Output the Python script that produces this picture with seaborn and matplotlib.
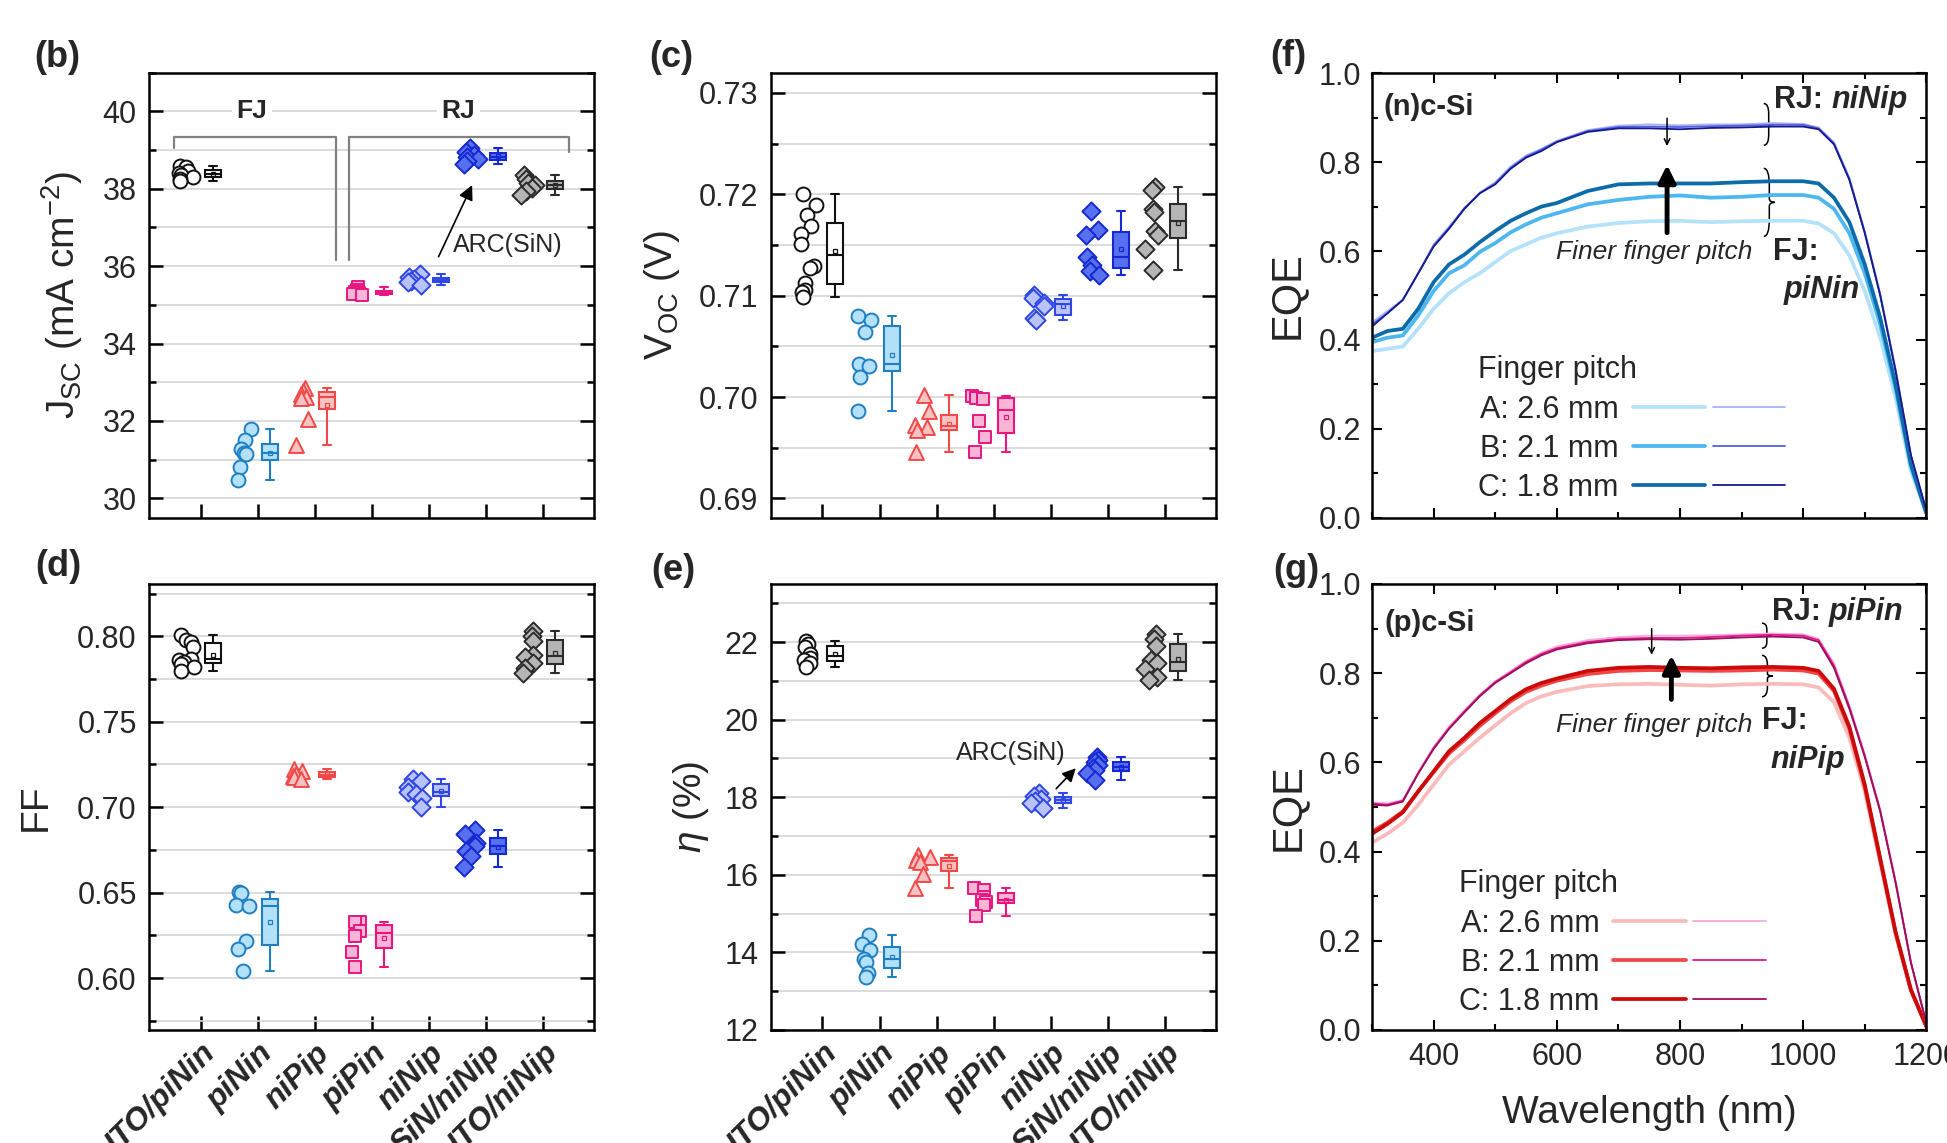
import numpy as np
import matplotlib
matplotlib.use("Agg")
import matplotlib.pyplot as plt
import seaborn as sns
from matplotlib.ticker import MultipleLocator, FormatStrFormatter, NullLocator
from matplotlib.legend_handler import HandlerTuple
from matplotlib.path import Path
from matplotlib.patches import PathPatch

sns.set_theme(style="ticks")
plt.rcParams["font.family"] = ["Liberation Sans", "DejaVu Sans"]
plt.rcParams["mathtext.fontset"] = "custom"
plt.rcParams["mathtext.rm"] = "Liberation Sans"
plt.rcParams["mathtext.it"] = "Liberation Sans:italic"
plt.rcParams["mathtext.bf"] = "Liberation Sans:bold"

# ---- device groups (panels b-e) ----
devices = ["ITO/piNin", "piNin", "niPip", "piPin", "niNip", "SiN/niNip", "ITO/niNip"]
markers = ["o", "o", "^", "s", "D", "D", "D"]
marker_sizes = [100, 100, 115, 80, 85, 85, 85]
edge_colors = ["#111111", "#1f7fc0", "#f24848", "#e8167f", "#2f47e6", "#1628cf", "#2b2b2b"]
face_colors = ["#ffffff", "#b3e1fa", "#f8c2c2", "#f9b5d6", "#b9c3fa", "#5670f0", "#b5b5b5"]

jsc = [
    [38.60, 38.55, 38.47, 38.42, 38.36, 38.31, 38.25, 38.19],
    [31.78, 31.52, 31.28, 31.18, 31.14, 30.82, 30.47],
    [32.85, 32.78, 32.70, 32.62, 32.58, 32.05, 31.38],
    [35.47, 35.38, 35.33, 35.30, 35.28, 35.25],
    [35.80, 35.72, 35.66, 35.62, 35.58, 35.52],
    [39.05, 38.95, 38.88, 38.82, 38.78, 38.72, 38.65],
    [38.35, 38.25, 38.15, 38.10, 38.02, 37.95, 37.85],
]
voc = [
    [0.7200, 0.7189, 0.7180, 0.7169, 0.7161, 0.7151, 0.7129, 0.7127, 0.7113, 0.7106, 0.7104, 0.7099],
    [0.7080, 0.7076, 0.7064, 0.7033, 0.7031, 0.7020, 0.6986],
    [0.7002, 0.6986, 0.6972, 0.6970, 0.6967, 0.6946],
    [0.7001, 0.6999, 0.6998, 0.6976, 0.6961, 0.6946],
    [0.7101, 0.7098, 0.7093, 0.7090, 0.7078, 0.7076],
    [0.7184, 0.7165, 0.7160, 0.7138, 0.7130, 0.7124, 0.7120],
    [0.7207, 0.7204, 0.7186, 0.7183, 0.7164, 0.7160, 0.7146, 0.7125],
]
ff = [
    [0.8005, 0.7980, 0.7965, 0.7940, 0.7868, 0.7862, 0.7850, 0.7838, 0.7820, 0.7797],
    [0.6506, 0.6496, 0.6430, 0.6422, 0.6215, 0.6168, 0.6043],
    [0.7225, 0.7210, 0.7195, 0.7185, 0.7175, 0.7165],
    [0.6330, 0.6325, 0.6277, 0.6246, 0.6154, 0.6066],
    [0.7165, 0.7150, 0.7120, 0.7091, 0.7075, 0.7055, 0.7003],
    [0.6865, 0.6845, 0.6790, 0.6773, 0.6745, 0.6712, 0.6650],
    [0.8030, 0.8000, 0.7970, 0.7890, 0.7880, 0.7845, 0.7815, 0.7785],
]
eta = [
    [22.03, 21.95, 21.88, 21.70, 21.60, 21.55, 21.45, 21.35],
    [14.45, 14.22, 14.05, 13.82, 13.75, 13.47, 13.36],
    [16.52, 16.45, 16.38, 16.32, 16.02, 15.65],
    [15.67, 15.62, 15.42, 15.36, 15.30, 15.23, 14.93],
    [18.12, 18.02, 17.96, 17.90, 17.85, 17.72],
    [19.05, 18.95, 18.90, 18.82, 18.76, 18.70, 18.62, 18.45],
    [22.20, 22.08, 21.90, 21.55, 21.45, 21.30, 21.10, 21.03],
]

# ---- EQE spectra (panels f, g) ----
wavelength = [300, 325, 350, 375, 400, 425, 450, 475, 500, 525, 550, 575, 600, 650, 700,
              750, 800, 850, 900, 950, 1000, 1025, 1050, 1075, 1100, 1125, 1150, 1175, 1200]
pitch_labels = ["A: 2.6 mm", "B: 2.1 mm", "C: 1.8 mm"]

f_fj_a = [0.375, 0.380, 0.385, 0.425, 0.470, 0.505, 0.530, 0.550, 0.575, 0.600, 0.615, 0.630, 0.640, 0.655, 0.663,
          0.667, 0.668, 0.665, 0.667, 0.668, 0.668, 0.662, 0.640, 0.590, 0.510, 0.405, 0.270, 0.105, 0.010]
f_fj_b = [0.395, 0.405, 0.410, 0.455, 0.510, 0.550, 0.568, 0.598, 0.618, 0.642, 0.660, 0.675, 0.685, 0.705, 0.715,
          0.722, 0.725, 0.720, 0.722, 0.726, 0.726, 0.720, 0.695, 0.640, 0.550, 0.435, 0.290, 0.115, 0.010]
f_fj_c = [0.405, 0.420, 0.425, 0.470, 0.530, 0.570, 0.592, 0.620, 0.645, 0.668, 0.685, 0.700, 0.708, 0.735, 0.750,
          0.752, 0.752, 0.752, 0.755, 0.757, 0.757, 0.752, 0.720, 0.665, 0.570, 0.450, 0.300, 0.120, 0.010]
f_rj_a = [0.440, 0.465, 0.490, 0.550, 0.615, 0.655, 0.695, 0.732, 0.755, 0.790, 0.815, 0.830, 0.848, 0.872, 0.882,
          0.885, 0.883, 0.885, 0.885, 0.888, 0.886, 0.878, 0.845, 0.765, 0.645, 0.505, 0.335, 0.140, 0.015]
f_rj_b = [0.435, 0.460, 0.490, 0.550, 0.612, 0.652, 0.697, 0.730, 0.752, 0.787, 0.812, 0.828, 0.846, 0.870, 0.879,
          0.880, 0.879, 0.881, 0.882, 0.884, 0.884, 0.876, 0.842, 0.762, 0.642, 0.502, 0.332, 0.140, 0.015]
f_rj_c = [0.430, 0.460, 0.490, 0.550, 0.610, 0.650, 0.695, 0.730, 0.750, 0.785, 0.810, 0.825, 0.845, 0.868, 0.876,
          0.876, 0.874, 0.877, 0.878, 0.880, 0.880, 0.874, 0.840, 0.760, 0.640, 0.500, 0.330, 0.140, 0.015]

g_fj_a = [0.420, 0.440, 0.465, 0.505, 0.550, 0.595, 0.625, 0.655, 0.683, 0.710, 0.733, 0.748, 0.758, 0.771, 0.775,
          0.776, 0.774, 0.772, 0.775, 0.776, 0.775, 0.768, 0.735, 0.655, 0.535, 0.375, 0.215, 0.088, 0.008]
g_fj_b = [0.445, 0.465, 0.490, 0.535, 0.578, 0.620, 0.650, 0.682, 0.710, 0.737, 0.758, 0.772, 0.783, 0.798, 0.805,
          0.807, 0.806, 0.805, 0.806, 0.808, 0.806, 0.799, 0.760, 0.675, 0.545, 0.382, 0.218, 0.089, 0.008]
g_fj_c = [0.440, 0.462, 0.488, 0.535, 0.580, 0.625, 0.655, 0.688, 0.715, 0.742, 0.764, 0.778, 0.788, 0.805, 0.812,
          0.814, 0.812, 0.811, 0.813, 0.814, 0.812, 0.805, 0.765, 0.680, 0.550, 0.385, 0.220, 0.090, 0.008]
g_rj_a = [0.510, 0.508, 0.516, 0.578, 0.635, 0.680, 0.717, 0.752, 0.782, 0.805, 0.828, 0.846, 0.860, 0.874, 0.881,
          0.884, 0.884, 0.885, 0.887, 0.889, 0.887, 0.877, 0.822, 0.728, 0.618, 0.495, 0.335, 0.152, 0.015]
g_rj_b = [0.508, 0.505, 0.514, 0.576, 0.632, 0.677, 0.714, 0.750, 0.780, 0.802, 0.825, 0.843, 0.856, 0.870, 0.877,
          0.879, 0.879, 0.881, 0.884, 0.886, 0.884, 0.874, 0.817, 0.724, 0.615, 0.492, 0.332, 0.151, 0.015]
g_rj_c = [0.505, 0.503, 0.512, 0.575, 0.630, 0.675, 0.712, 0.748, 0.778, 0.800, 0.822, 0.840, 0.853, 0.867, 0.874,
          0.876, 0.875, 0.877, 0.880, 0.882, 0.880, 0.870, 0.812, 0.720, 0.612, 0.490, 0.330, 0.150, 0.015]

f_fj_colors = ["#b4e2fb", "#4db7f0", "#0c6ba8"]
f_rj_colors = ["#a9b1f6", "#4f5fe0", "#15198a"]
g_fj_colors = ["#f9bcbc", "#f04646", "#cc0a0a"]
g_rj_colors = ["#f6a9dc", "#e0188c", "#9c0f5a"]

rng = np.random.default_rng(11)


def box_panel(ax, groups):
    for i, vals in enumerate(groups):
        vals = np.asarray(vals)
        xs = i - 0.25 + rng.uniform(-0.14, 0.14, len(vals))
        sns.scatterplot(x=xs, y=vals, marker=markers[i], s=marker_sizes[i],
                        color=face_colors[i], edgecolor=edge_colors[i],
                        linewidth=1.4, zorder=4, legend=False, ax=ax)
        sns.boxplot(x=np.full(len(vals), i + 0.22), y=vals, native_scale=True,
                    orient="x", width=0.28, color=face_colors[i],
                    linecolor=edge_colors[i], linewidth=1.5, saturation=1,
                    whis=(0, 100), showfliers=False, showmeans=True,
                    meanprops=dict(marker="s", markersize=3.5, markerfacecolor="none",
                                   markeredgecolor=edge_colors[i], markeredgewidth=0.9),
                    zorder=3, ax=ax)


def style_box_axes(ax, ylim, major, minor, fmt, show_labels):
    ax.set_xlim(-0.9, 6.9)
    ax.set_ylim(*ylim)
    ax.set_xticks(range(len(devices)))
    ax.xaxis.set_minor_locator(NullLocator())
    if show_labels:
        ax.set_xticklabels(devices, rotation=45, ha="right", va="top",
                           rotation_mode="anchor", fontsize=23,
                           fontweight="bold", fontstyle="italic")
    else:
        ax.set_xticklabels([])
    ax.yaxis.set_major_locator(MultipleLocator(major))
    ax.yaxis.set_minor_locator(MultipleLocator(minor))
    ax.yaxis.set_major_formatter(FormatStrFormatter(fmt))
    ax.grid(True, axis="y", which="both", color="#d6d6d6", lw=1.2)
    ax.grid(False, axis="x")
    ax.set_axisbelow(True)
    ax.tick_params(axis="y", which="both", direction="in", left=True, right=True,
                   labelsize=22, pad=9, width=1.8, color="black")
    ax.tick_params(axis="y", which="major", length=10)
    ax.tick_params(axis="y", which="minor", length=5)
    ax.tick_params(axis="x", which="major", direction="in", bottom=True, top=False,
                   length=10, width=1.8, pad=6, color="black")
    ax.set_xlabel("")
    for sp in ax.spines.values():
        sp.set_linewidth(1.8)
        sp.set_color("black")


def eqe_panel(ax, fj, rj, fj_colors, rj_colors):
    fj_lines, rj_lines = [], []
    for vals, c in zip(fj, fj_colors):
        sns.lineplot(x=wavelength, y=vals, color=c, lw=2.7, ax=ax)
        fj_lines.append(ax.lines[-1])
    for vals, c in zip(rj, rj_colors):
        sns.lineplot(x=wavelength, y=vals, color=c, lw=1.3, ax=ax)
        rj_lines.append(ax.lines[-1])
    return fj_lines, rj_lines


def style_eqe_axes(ax, show_xlabels):
    ax.set_xlim(300, 1200)
    ax.set_ylim(0, 1.0)
    ax.xaxis.set_major_locator(MultipleLocator(200))
    ax.xaxis.set_minor_locator(MultipleLocator(100))
    ax.yaxis.set_major_locator(MultipleLocator(0.2))
    ax.yaxis.set_minor_locator(MultipleLocator(0.1))
    ax.yaxis.set_major_formatter(FormatStrFormatter("%.1f"))
    ax.tick_params(which="both", direction="in", top=True, right=True, left=True,
                   bottom=True, width=1.5, labelsize=22, color="black")
    ax.tick_params(which="major", length=7)
    ax.tick_params(which="minor", length=4)
    ax.tick_params(axis="y", pad=8)
    ax.tick_params(axis="x", pad=9, labelbottom=show_xlabels)
    ax.grid(False)
    for sp in ax.spines.values():
        sp.set_linewidth(1.8)
        sp.set_color("black")


def brace(ax, x, y0, y1, w, lw=1.1):
    ym = (y0 + y1) / 2
    h = y1 - y0
    verts = [(x, y1), (x + w / 2, y1), (x + w / 2, y1 - h * 0.25),
             (x + w / 2, ym + h * 0.06),
             (x + w / 2, ym), (x + w, ym),
             (x + w / 2, ym), (x + w / 2, ym - h * 0.06),
             (x + w / 2, y0 + h * 0.25),
             (x + w / 2, y0), (x, y0)]
    codes = [Path.MOVETO, Path.CURVE3, Path.CURVE3, Path.LINETO, Path.CURVE3, Path.CURVE3,
             Path.CURVE3, Path.CURVE3, Path.LINETO, Path.CURVE3, Path.CURVE3]
    ax.add_patch(PathPatch(Path(verts, codes), fill=False, lw=lw, color="black"))


def two_part_label(ax, x, y, first, second, fs=22):
    t = ax.text(x, y, first, fontsize=fs, fontweight="bold", ha="left", va="baseline")
    ax.annotate(second, xy=(1, 0), xycoords=t, fontsize=fs, fontweight="bold",
                fontstyle="italic", ha="left", va="bottom")


fig = plt.figure(figsize=(19.47, 11.43), dpi=100)
ax_b = fig.add_axes([0.0767, 0.5471, 0.2285, 0.3893])
ax_c = fig.add_axes([0.3960, 0.5471, 0.2288, 0.3893])
ax_f = fig.add_axes([0.7047, 0.5471, 0.2847, 0.3888])
ax_d = fig.add_axes([0.0767, 0.0989, 0.2285, 0.3902])
ax_e = fig.add_axes([0.3960, 0.0989, 0.2288, 0.3902])
ax_g = fig.add_axes([0.7047, 0.0989, 0.2847, 0.3902])

# (b) Jsc
box_panel(ax_b, jsc)
style_box_axes(ax_b, (29.5, 41.0), 2, 1, "%d", False)
ax_b.set_ylabel(r"J$_{\mathrm{SC}}$ (mA cm$^{-2}$)", fontsize=28)
ax_b.yaxis.set_label_coords(-0.145, 0.5)
ax_b.plot([-0.47, -0.47, 2.37, 2.37], [39.05, 39.35, 39.35, 36.15], color="#808080", lw=1.6)
ax_b.plot([2.6, 2.6, 6.45, 6.45], [36.15, 39.35, 39.35, 38.96], color="#808080", lw=1.6)
for x, s in [(0.9, "FJ"), (4.52, "RJ")]:
    ax_b.text(x, 40, s, fontsize=19, fontweight="bold", ha="center", va="center",
              bbox=dict(facecolor="white", edgecolor="none", pad=3), zorder=5)
ax_b.annotate("", xy=(4.78, 38.16), xytext=(4.15, 36.18),
              arrowprops=dict(arrowstyle="-|>", color="black", lw=1.2, mutation_scale=22))
ax_b.text(5.39, 36.55, "ARC(SiN)", fontsize=18, ha="center", va="center")

# (c) Voc
box_panel(ax_c, voc)
style_box_axes(ax_c, (0.6881, 0.7320), 0.01, 0.005, "%.2f", False)
ax_c.set_ylabel(r"V$_{\mathrm{OC}}$ (V)", fontsize=28)
ax_c.yaxis.set_label_coords(-0.2, 0.5)

# (d) FF
box_panel(ax_d, ff)
style_box_axes(ax_d, (0.5696, 0.8306), 0.05, 0.025, "%.2f", True)
ax_d.set_ylabel("FF", fontsize=28)
ax_d.yaxis.set_label_coords(-0.215, 0.5)

# (e) efficiency
box_panel(ax_e, eta)
style_box_axes(ax_e, (12, 23.5), 2, 1, "%d", True)
ax_e.set_ylabel(r"$\eta$ (%)", fontsize=28)
ax_e.yaxis.set_label_coords(-0.135, 0.5)
ax_e.annotate("", xy=(4.47, 18.8), xytext=(4.06, 18.17),
              arrowprops=dict(arrowstyle="-|>", color="black", lw=1.2, mutation_scale=20))
ax_e.text(3.29, 19.14, "ARC(SiN)", fontsize=18, ha="center", va="center")

# (f) EQE n-type
fj_f, rj_f = eqe_panel(ax_f, [f_fj_a, f_fj_b, f_fj_c], [f_rj_a, f_rj_b, f_rj_c], f_fj_colors, f_rj_colors)
style_eqe_axes(ax_f, False)
ax_f.set_ylabel("EQE", fontsize=30)
ax_f.yaxis.set_label_coords(-0.118, 0.5)
ax_f.text(319, 0.925, "(n)c-Si", fontsize=21, fontweight="bold", ha="left", va="center")
two_part_label(ax_f, 953, 0.922, "RJ: ", "niNip")
ax_f.text(918, 0.598, "Finer finger pitch", fontsize=19, fontstyle="italic", ha="right", va="center")
ax_f.text(951, 0.598, "FJ:", fontsize=22, fontweight="bold", ha="left", va="center")
ax_f.text(968, 0.512, "piNin", fontsize=22, fontweight="bold", fontstyle="italic", ha="left", va="center")
ax_f.annotate("", xy=(779, 0.80), xytext=(779, 0.635),
              arrowprops=dict(arrowstyle="-|>", color="black", lw=3.5, mutation_scale=26))
ax_f.annotate("", xy=(779, 0.83), xytext=(779, 0.905),
              arrowprops=dict(arrowstyle="->", color="black", lw=1.1, mutation_scale=10))
brace(ax_f, 936, 0.838, 0.932, 16)
brace(ax_f, 936, 0.633, 0.786, 18)
ax_f.legend([tuple(p) for p in zip(fj_f, rj_f)], pitch_labels,
            handler_map={tuple: HandlerTuple(ndivide=None, pad=0.25)},
            markerfirst=False, title="Finger pitch", title_fontsize=22, fontsize=22,
            alignment="left", frameon=False, loc="upper left", bbox_to_anchor=(0.192, 0.365),
            borderpad=0, borderaxespad=0, handlelength=5.0, handletextpad=0.45, labelspacing=0.3)

# (g) EQE p-type
fj_g, rj_g = eqe_panel(ax_g, [g_fj_a, g_fj_b, g_fj_c], [g_rj_a, g_rj_b, g_rj_c], g_fj_colors, g_rj_colors)
style_eqe_axes(ax_g, True)
ax_g.set_ylabel("EQE", fontsize=30)
ax_g.yaxis.set_label_coords(-0.116, 0.5)
ax_g.set_xlabel("Wavelength (nm)", fontsize=28, labelpad=16)
ax_g.text(321, 0.912, "(p)c-Si", fontsize=21, fontweight="bold", ha="left", va="center")
two_part_label(ax_g, 949, 0.92, "RJ: ", "piPin")
ax_g.text(918, 0.683, "Finer finger pitch", fontsize=19, fontstyle="italic", ha="right", va="center")
ax_g.text(933, 0.693, "FJ:", fontsize=22, fontweight="bold", ha="left", va="center")
ax_g.text(947, 0.605, "niPip", fontsize=22, fontweight="bold", fontstyle="italic", ha="left", va="center")
ax_g.annotate("", xy=(786, 0.846), xytext=(786, 0.735),
              arrowprops=dict(arrowstyle="-|>", color="black", lw=3.5, mutation_scale=26))
ax_g.annotate("", xy=(754, 0.835), xytext=(754, 0.906),
              arrowprops=dict(arrowstyle="->", color="black", lw=1.1, mutation_scale=10))
brace(ax_g, 933, 0.856, 0.912, 16)
brace(ax_g, 933, 0.747, 0.840, 18)
ax_g.legend([tuple(p) for p in zip(fj_g, rj_g)], pitch_labels,
            handler_map={tuple: HandlerTuple(ndivide=None, pad=0.25)},
            markerfirst=False, title="Finger pitch", title_fontsize=22, fontsize=22,
            alignment="left", frameon=False, loc="upper left", bbox_to_anchor=(0.157, 0.36),
            borderpad=0, borderaxespad=0, handlelength=5.0, handletextpad=0.45, labelspacing=0.3)

# panel letters
for x, y, s in [(0.0293, 0.9493, "(b)"), (0.3446, 0.9493, "(c)"), (0.6615, 0.951, "(f)"),
                (0.0298, 0.5048, "(d)"), (0.3457, 0.5013, "(e)"), (0.6656, 0.5013, "(g)")]:
    fig.text(x, y, s, fontsize=26, fontweight="bold", ha="center", va="center")

fig.savefig("out.png", dpi=100)
